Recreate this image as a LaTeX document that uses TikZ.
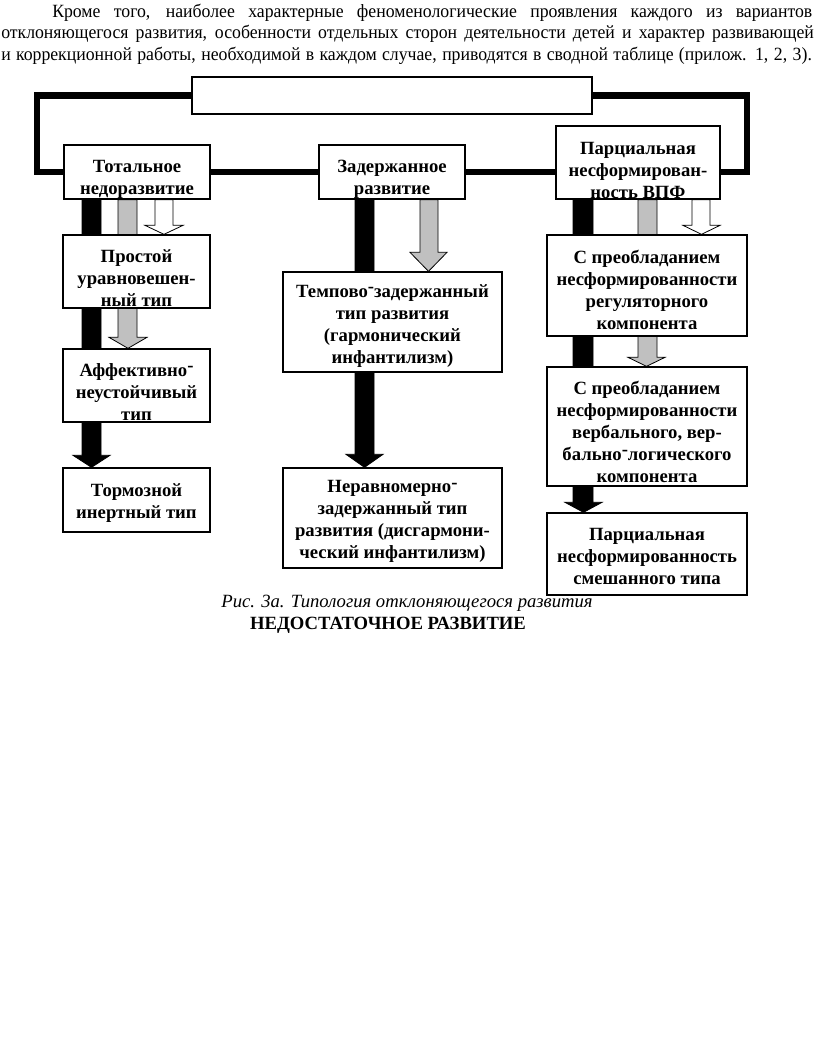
\documentclass[tikz,border=0pt]{standalone}
\usepackage{fontspec}
\setmainfont{Liberation Serif}
\newfontfamily\parafont{Liberation Serif}[FakeStretch=0.95]
\usetikzlibrary{calc,backgrounds}
\newcommand\hy{\raisebox{0.25em}{-}}
% style, xl, xr, hl, hr, source, target, head length (px)
\newcommand\blockarr[8]{%
  \pgfmathsetmacro\tipx{(#4+#5)/2}%
  \draw[#1] (#2,0 |- #6.south) -- ($(#2,0 |- #7.north)+(0,-#8)$)
    -- ($(#4,0 |- #7.north)+(0,-#8)$) -- (\tipx,0 |- #7.north)
    -- ($(#5,0 |- #7.north)+(0,-#8)$) -- ($(#3,0 |- #7.north)+(0,-#8)$)
    -- (#3,0 |- #6.south) -- cycle;}
\begin{document}
\begin{tikzpicture}[x=0.75pt,y=-0.75pt,
  box/.style={draw, fill=white, line width=1pt, inner sep=0pt},
  btxt/.style={font=\bfseries\fontsize{14}{16.5}\selectfont, align=center, inner sep=0pt},
  para/.style={font=\parafont\fontsize{14}{16.5}\selectfont, anchor=base west, inner sep=0pt},
  conn/.style={line width=4.6pt, line join=miter},
  blackarr/.style={fill=black, draw=black, line width=0.6pt},
  grayarr/.style={fill=arrgray, draw=black, line width=0.6pt},
  whitearr/.style={fill=white, draw=black, line width=0.6pt}]
\definecolor{arrgray}{HTML}{C0C0C0}
\useasboundingbox (0,0) rectangle (816,1050);

% paragraph
\node[para] (p1) at (52,17) {\makebox[570pt][s]{Кроме того, наиболее характерные феноменологические проявления каждого из вариантов}};
\node[para] (p2) at (1,38) {\makebox[609.5pt][s]{отклоняющегося развития, особенности отдельных сторон деятельности детей и характер развивающей}};
\node[para] (p3) at (1,60) {\makebox[608pt][s]{и коррекционной работы, необходимой в каждом случае, приводятся в сводной таблице (прилож. 1, 2, 3).}};

% boxes
\node[box, minimum width=400*0.75pt, minimum height=37*0.75pt] (top) at (392,95.5) {};
\node[box, minimum width=146*0.75pt, minimum height=54*0.75pt] (tot) at (137,172) {};
\node[box, minimum width=146*0.75pt, minimum height=54*0.75pt] (zad) at (392,172) {};
\node[box, minimum width=164*0.75pt, minimum height=73*0.75pt] (par) at (638,162.5) {};
\node[box, minimum width=147*0.75pt, minimum height=73*0.75pt] (pro) at (136.5,271.5) {};
\node[box, minimum width=147*0.75pt, minimum height=73*0.75pt] (aff) at (136.5,385.5) {};
\node[box, minimum width=147*0.75pt, minimum height=64*0.75pt] (tor) at (136.5,500) {};
\node[box, minimum width=219*0.75pt, minimum height=100*0.75pt] (tem) at (392.5,322) {};
\node[box, minimum width=219*0.75pt, minimum height=100*0.75pt] (ner) at (392.5,518) {};
\node[box, minimum width=200*0.75pt, minimum height=101*0.75pt] (ra) at (647,285.5) {};
\node[box, minimum width=200*0.75pt, minimum height=119*0.75pt] (rb) at (647,426.5) {};
\node[box, minimum width=200*0.75pt, minimum height=82*0.75pt] (rc) at (647,554) {};

% box texts
\node[btxt] (ttot) at ($(tot.center)+(0,7)$) {Тотальное\\недоразвитие};
\node[btxt] (tzad) at ($(zad.center)+(0,7)$) {Задержанное\\развитие};
\node[btxt] (tpar) at ($(par.center)+(0,7.5)$) {Парциальная\\несформирован-\\ность ВПФ};
\node[btxt] (tpro) at ($(pro.center)+(0,6.5)$) {Простой\\уравновешен-\\ный тип};
\node[btxt] (taff) at ($(aff.center)+(0,6.5)$) {Аффективно\hy\\неустойчивый\\тип};
\node[btxt] (ttor) at ($(tor.center)+(0,3.3)$) {Тормозной\\инертный тип};
\node[btxt] (ttem) at ($(tem.center)+(0,3.8)$) {Темпово\hy задержанный\\тип развития\\(гармонический\\инфантилизм)};
\node[btxt] (tner) at ($(ner.center)+(0,3.8)$) {Неравномерно\hy\\задержанный тип\\развития (дисгармони-\\ческий инфантилизм)};
\node[btxt] (tra) at ($(ra.center)+(0,4.5)$) {С преобладанием\\несформированности\\регуляторного\\компонента};
\node[btxt] (trb) at ($(rb.center)+(0,5)$) {С преобладанием\\несформированности\\вербального, вер-\\бально\hy логического\\компонента};
\node[btxt] (trc) at ($(rc.center)+(0,2.5)$) {Парциальная\\несформированность\\смешанного типа};

% caption
\node[font=\itshape\fontsize{14}{16.5}\selectfont, anchor=base, inner sep=0pt] (cap) at (407,607) {Рис. 3а. Типология отклоняющегося развития};
\node[font=\bfseries\fontsize{14}{16.5}\selectfont, anchor=base, inner sep=0pt] (cap2) at (388,629) {НЕДОСТАТОЧНОЕ РАЗВИТИЕ};

\coordinate (lx) at (37,0);
\coordinate (rx) at (747,0);
\begin{pgfonlayer}{background}
% thick connectors
\draw[conn] (top.west) -- (top.west -| lx) |- (tot.west);
\draw[conn] (tot.east) -- (zad.west);
\draw[conn] (zad.east) -- (zad.east -| par.west);
\draw[conn] (par.east |- zad.east) -- (rx |- zad.east) |- (top.east);
% left column
\blockarr{blackarr}{82}{101}{73}{110}{tot}{tor}{12}
\blockarr{grayarr}{118}{137}{109}{147}{tot}{aff}{11}
\blockarr{whitearr}{155}{173}{145}{183}{tot}{pro}{9}
% middle column
\blockarr{blackarr}{355}{374}{346}{383}{zad}{ner}{13}
\blockarr{grayarr}{420}{438}{410}{447}{zad}{tem}{19}
% right column
\blockarr{blackarr}{573}{593}{565}{602}{par}{rc}{10}
\blockarr{grayarr}{638}{657}{628}{665}{par}{rb}{9}
\blockarr{whitearr}{692}{710}{683}{720}{par}{ra}{9}
\end{pgfonlayer}
\end{tikzpicture}
\end{document}
